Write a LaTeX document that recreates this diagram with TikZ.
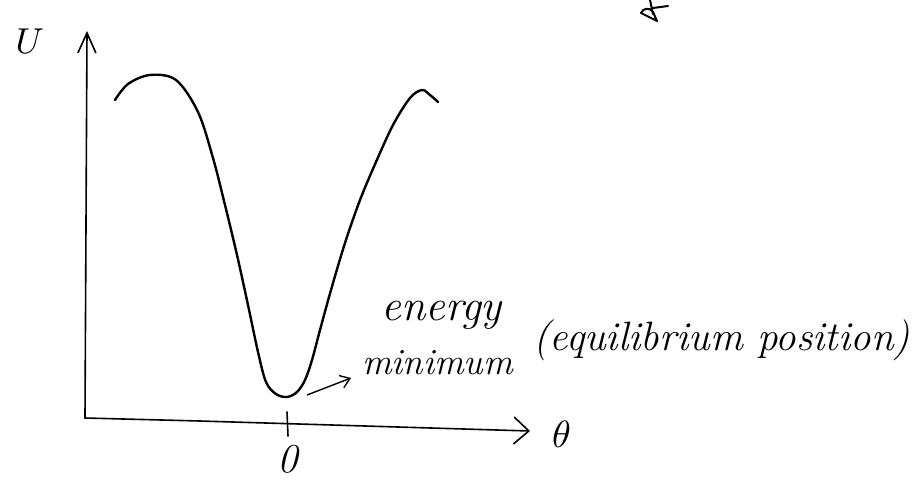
\documentclass[tikz,border=0pt]{standalone}
\usepackage{graphicx}
\usepackage{fontspec}
\usetikzlibrary{arrows.meta}
\begin{document}
\begin{tikzpicture}[x=1pt,y=-1pt,
  axis/.style={line width=1.6pt,line cap=round},
  curvestyle/.style={line width=2.4pt,line cap=round,line join=round},
  hand/.style={font=\fontsize{41}{46}\selectfont\itshape,inner sep=0pt}]
\useasboundingbox (0,0) rectangle (923,487);
% axes
\coordinate (corner) at (85,418);
\coordinate (ytip) at (87,31);
\coordinate (xtip) at (530,431);
\draw[axis,-{Straight Barb[length=20pt,width=18pt,line width=1.6pt]}] (corner) -- (ytip);
\draw[axis,-{Straight Barb[length=15pt,width=27pt,line width=1.6pt]}] (corner) -- (200,421) -- (xtip);
% tick
\coordinate (ticktop) at (287,412);
\coordinate (tickbot) at (288,436);
\draw[axis] (ticktop) -- (tickbot);
% labels
\node[inner sep=0pt,anchor=base] (ulabel) at (30,53) {\scalebox{3.6}{$U$}};
\node[hand,anchor=base] (zero) at (288,472) {0};
\node[inner sep=0pt,anchor=base west] (theta) at (552,447) {\scalebox{3.8}{$\theta$}};
% curve
\draw[curvestyle] plot[smooth,tension=0.55] coordinates {
 (115,100) (128,84) (150,75) (176,80) (198,112) (213,158) (225,205)
 (237,255) (248,305) (258,352) (266,382) (276,394) (287,397) (297,392)
 (305,380) (312,360) (320,330) (331,290) (345,243) (360,200) (376,162)
 (393,125) (410,98) (422,90) (430,95) (438,102)};
\coordinate (minpt) at (307,395);
\coordinate (arrowend) at (351,378);
% annotation
\node[hand,font=\fontsize{44}{48}\selectfont\itshape,anchor=base west] (energy) at (381,320) {energy};
\node[hand,font=\fontsize{37}{42}\selectfont\itshape,anchor=base west] (minimum) at (362,374) {minimum};
\node[hand,anchor=base west] (equil) at (533,350) {(equilibrium position)};
\draw[line width=1.4pt,-{Straight Barb[length=9pt,width=13pt,line width=1.4pt]}] (minpt) -- (arrowend);
% partial mark at top edge
\draw[line width=2pt,line cap=round,line join=round] (650,0) -- (653,14) (653,8) -- (668,6)
  (657,21) -- (641,13) .. controls (643,8) and (650,7) .. (653,12) -- (657,21);
\end{tikzpicture}
\end{document}
